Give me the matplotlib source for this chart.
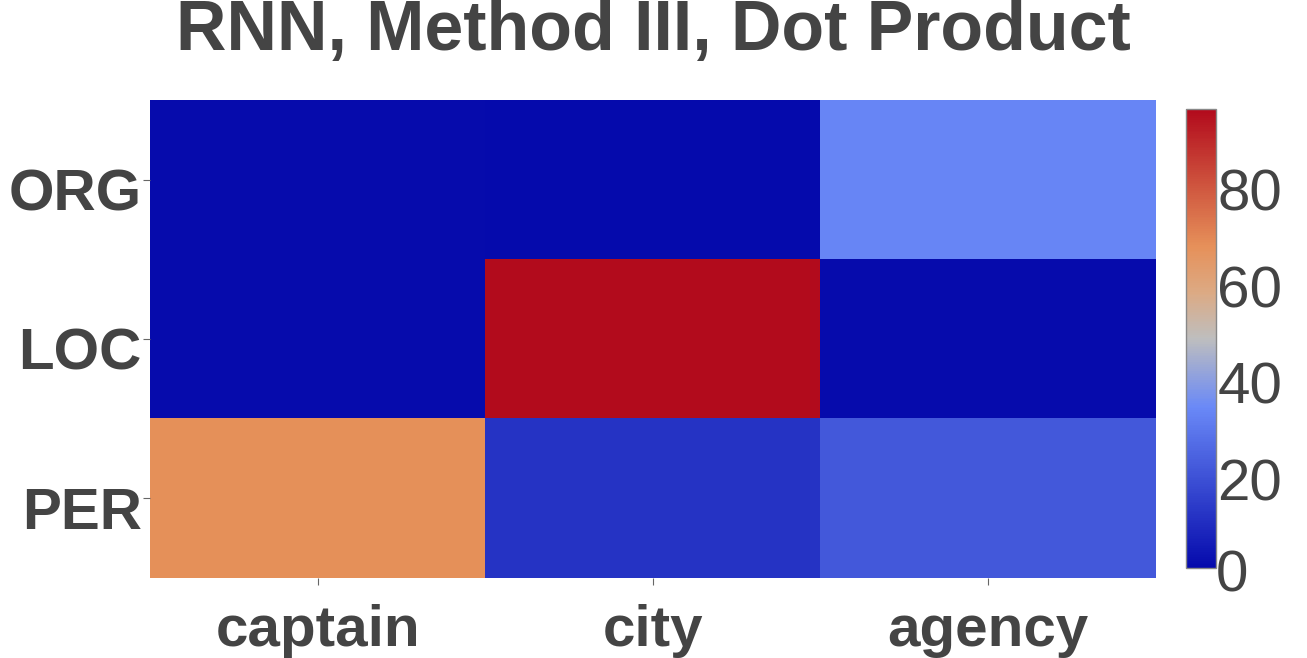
import numpy as np
import matplotlib
matplotlib.use("Agg")
import matplotlib.pyplot as plt
from matplotlib.colors import LinearSegmentedColormap, Normalize
from matplotlib.transforms import ScaledTranslation

plt.rcParams['font.family'] = ['Liberation Sans', 'DejaVu Sans']

words = ["captain", "city", "agency"]
tags = ["ORG", "LOC", "PER"]
scores = np.array([
    [2.3, 1.7, 34.0],
    [2.4, 96.0, 2.2],
    [68.2, 12.5, 22.4],
])
zmin, zmax = 1.7, 96.7
cbar_ticks = [0, 20, 40, 60, 80]

# plotly RdBu, reversed
stops = [(0.0, (5, 10, 172)), (0.35, (106, 137, 247)), (0.5, (190, 190, 190)),
         (0.6, (220, 170, 132)), (0.7, (230, 145, 90)), (1.0, (178, 10, 28))]
cmap = LinearSegmentedColormap.from_list(
    "rdbu_r", [(p, tuple(c / 255 for c in rgb)) for p, rgb in stops])
norm = Normalize(zmin, zmax)

txt = "#444444"
W, H = 1307, 658
fig = plt.figure(figsize=(W / 100, H / 100), dpi=100)

ax = fig.add_axes([150 / W, (H - 578) / H, 1006 / W, 478 / H])
im = ax.imshow(scores, cmap=cmap, norm=norm, aspect="auto", interpolation="nearest")
ax.set_xticks(range(len(words)))
ax.set_xticklabels(words, fontsize=42, fontweight="bold", color=txt)
ax.set_yticks(range(len(tags)))
ax.set_yticklabels(tags, fontsize=42, fontweight="bold", color=txt)
ax.tick_params(length=5, width=0.8, color="#666666")
ax.tick_params(axis="y", pad=1)
ax.tick_params(axis="x", pad=14)
# plotly sits the row labels a little below the tick
for lab in ax.get_yticklabels():
    lab.set_transform(lab.get_transform() + ScaledTranslation(0, -0.1, fig.dpi_scale_trans))
for s in ax.spines.values():
    s.set_visible(False)

cax = fig.add_axes([1186 / W, (H - 568) / H, 30 / W, 459 / H])
cb = fig.colorbar(im, cax=cax)
cb.outline.set_edgecolor("#888888")
cb.outline.set_linewidth(1)
cax.set_yticks([t for t in cbar_ticks if t >= zmin])
cax.set_yticklabels([str(t) for t in cbar_ticks if t >= zmin], fontsize=42, color=txt)
cax.tick_params(length=0, pad=1)
for t in cbar_ticks:
    if t < zmin:
        cax.text(1.0, t, str(t), transform=cax.get_yaxis_transform(), fontsize=42,
                 color=txt, va="center", ha="left", clip_on=False)

fig.text(0.5, (H - 50) / H, "RNN, Method III, Dot Product", ha="center", va="baseline",
         fontsize=50.3, fontweight="bold", color=txt)

fig.savefig("out.png", dpi=100)
